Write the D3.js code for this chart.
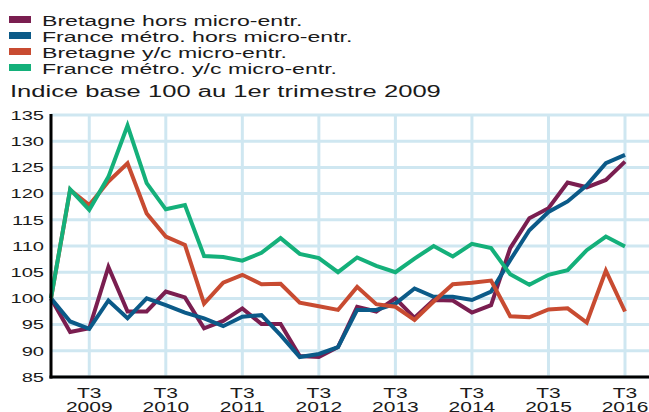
<!DOCTYPE html>
<html>
<head>
<meta charset="utf-8">
<script src="https://cdn.jsdelivr.net/npm/d3@7"></script>
<style>
  body { margin: 0; background: #fff; }
  svg { font-family: "Liberation Sans", Arial, sans-serif; }
</style>
</head>
<body>
<svg width="649" height="412"></svg>
<script>
// 2009 T1 .. 2016 T3
const quarters = d3.range(31)
const xLabels = [
  {i: 2, t: "T3", y: "2009"}, {i: 6, t: "T3", y: "2010"}, {i: 10, t: "T3", y: "2011"},
  {i: 14, t: "T3", y: "2012"}, {i: 18, t: "T3", y: "2013"}, {i: 22, t: "T3", y: "2014"},
  {i: 26, t: "T3", y: "2015"}, {i: 30, t: "T3", y: "2016"}
]
const yTicks = [85, 90, 95, 100, 105, 110, 115, 120, 125, 130, 135]

const bretagneHors = [100, 93.6, 94.3, 106, 97.5, 97.5, 101.3, 100.2, 94.3, 95.7, 98.1,
  95.1, 95.1, 89, 88.8, 90.7, 98.4, 97.5, 100, 96.3, 99.7, 99.6, 97.3, 98.7, 109.6,
  115.3, 117.2, 122.1, 121.2, 122.6, 126.1]
const franceHors = [100, 95.6, 94.2, 99.6, 96.2, 100, 98.7, 97.3, 96.2, 94.7, 96.5,
  96.8, 93, 88.8, 89.4, 90.7, 97.8, 97.8, 99, 101.9, 100.3, 100.3, 99.7, 101.3, 107.3,
  113, 116.5, 118.5, 121.6, 125.8, 127.4]
const bretagneYc = [100, 120.7, 117.8, 122.3, 125.8, 116.2, 111.8, 110.2, 99, 103, 104.5,
  102.7, 102.8, 99.2, 98.5, 97.8, 102.2, 98.9, 98.4, 95.9, 99.4, 102.7, 103, 103.4, 96.6,
  96.4, 97.9, 98.1, 95.4, 105.3, 97.5]
const franceYc = [100, 120.8, 116.9, 123.2, 133, 122, 117, 117.8, 108.1, 107.9, 107.2,
  108.7, 111.5, 108.5, 107.7, 105, 107.8, 106.2, 105, 107.6, 110, 108, 110.4, 109.6, 104.6,
  102.6, 104.5, 105.4, 109.2, 111.8, 109.9]

const seriesNames = ["Bretagne hors micro-entr.", "France métro. hors micro-entr.",
  "Bretagne y/c micro-entr.", "France métro. y/c micro-entr."]
const seriesColors = ["#7a1e50", "#0b5a88", "#c84b31", "#14b07a"]
const seriesValues = [bretagneHors, franceHors, bretagneYc, franceYc]

const svg = d3.select("svg"),
  width = +svg.attr("width"),
  height = +svg.attr("height")

const plotLeft = 51, plotTop = 115, plotBottom = 377

const x = d3.scaleLinear().domain([0, 30]).range([plotLeft, 625])
const y = d3.scaleLinear().domain([85, 135]).range([plotBottom, plotTop])

// the original font is drawn wide, so stretch text horizontally
function wideText(sel, px, py, size, sx) {
  return sel.append("text")
    .attr("transform", `translate(${px},${py}) scale(${sx},1)`)
    .attr("font-size", size)
    .attr("fill", "#1a1a1a")
}

// legend
const legend = svg.append("g")
seriesNames.forEach((name, k) => {
  legend.append("rect")
    .attr("x", 9).attr("y", 16 + k * 16)
    .attr("width", 22).attr("height", 7)
    .attr("fill", seriesColors[k])
  wideText(legend, 42, 25.5 + k * 16, 15.5, 1.49).text(name)
})

wideText(svg, 10, 97, 16, 1.6).text("Indice base 100 au 1er trimestre 2009")

// grid
svg.append("g").selectAll("line")
  .data(yTicks)
  .enter().append("line")
  .attr("x1", plotLeft).attr("x2", width)
  .attr("y1", d => y(d)).attr("y2", d => y(d))
  .attr("stroke", "#cfe7f1").attr("stroke-width", 3)

svg.append("g").selectAll("line")
  .data(xLabels)
  .enter().append("line")
  .attr("x1", d => x(d.i)).attr("x2", d => x(d.i))
  .attr("y1", plotTop).attr("y2", plotBottom)
  .attr("stroke", "#cfe7f1").attr("stroke-width", 3)

// y labels
const yl = svg.append("g")
yTicks.forEach(v => {
  wideText(yl, 44, y(v) + 4.8, 13.4, 1.5)
    .attr("text-anchor", "end")
    .text(v)
})

// x labels
const xl = svg.append("g")
xLabels.forEach(d => {
  wideText(xl, x(d.i), 398, 14, 1.5).attr("text-anchor", "middle").text(d.t)
  wideText(xl, x(d.i), 411.5, 14, 1.5).attr("text-anchor", "middle").text(d.y)
})

// lines
const line = d3.line()
  .x((d, i) => x(quarters[i]))
  .y(d => y(d))

svg.append("g").selectAll("path")
  .data(seriesValues)
  .enter().append("path")
  .attr("d", d => line(d))
  .attr("fill", "none")
  .attr("stroke", (d, k) => seriesColors[k])
  .attr("stroke-width", 4)
  .attr("stroke-linejoin", "miter")

// axes
svg.append("line")
  .attr("x1", plotLeft).attr("x2", plotLeft)
  .attr("y1", plotTop - 1).attr("y2", plotBottom + 1.5)
  .attr("stroke", "#000").attr("stroke-width", 3)
svg.append("line")
  .attr("x1", plotLeft - 1.5).attr("x2", width)
  .attr("y1", plotBottom).attr("y2", plotBottom)
  .attr("stroke", "#000").attr("stroke-width", 3)
</script>
</body>
</html>
